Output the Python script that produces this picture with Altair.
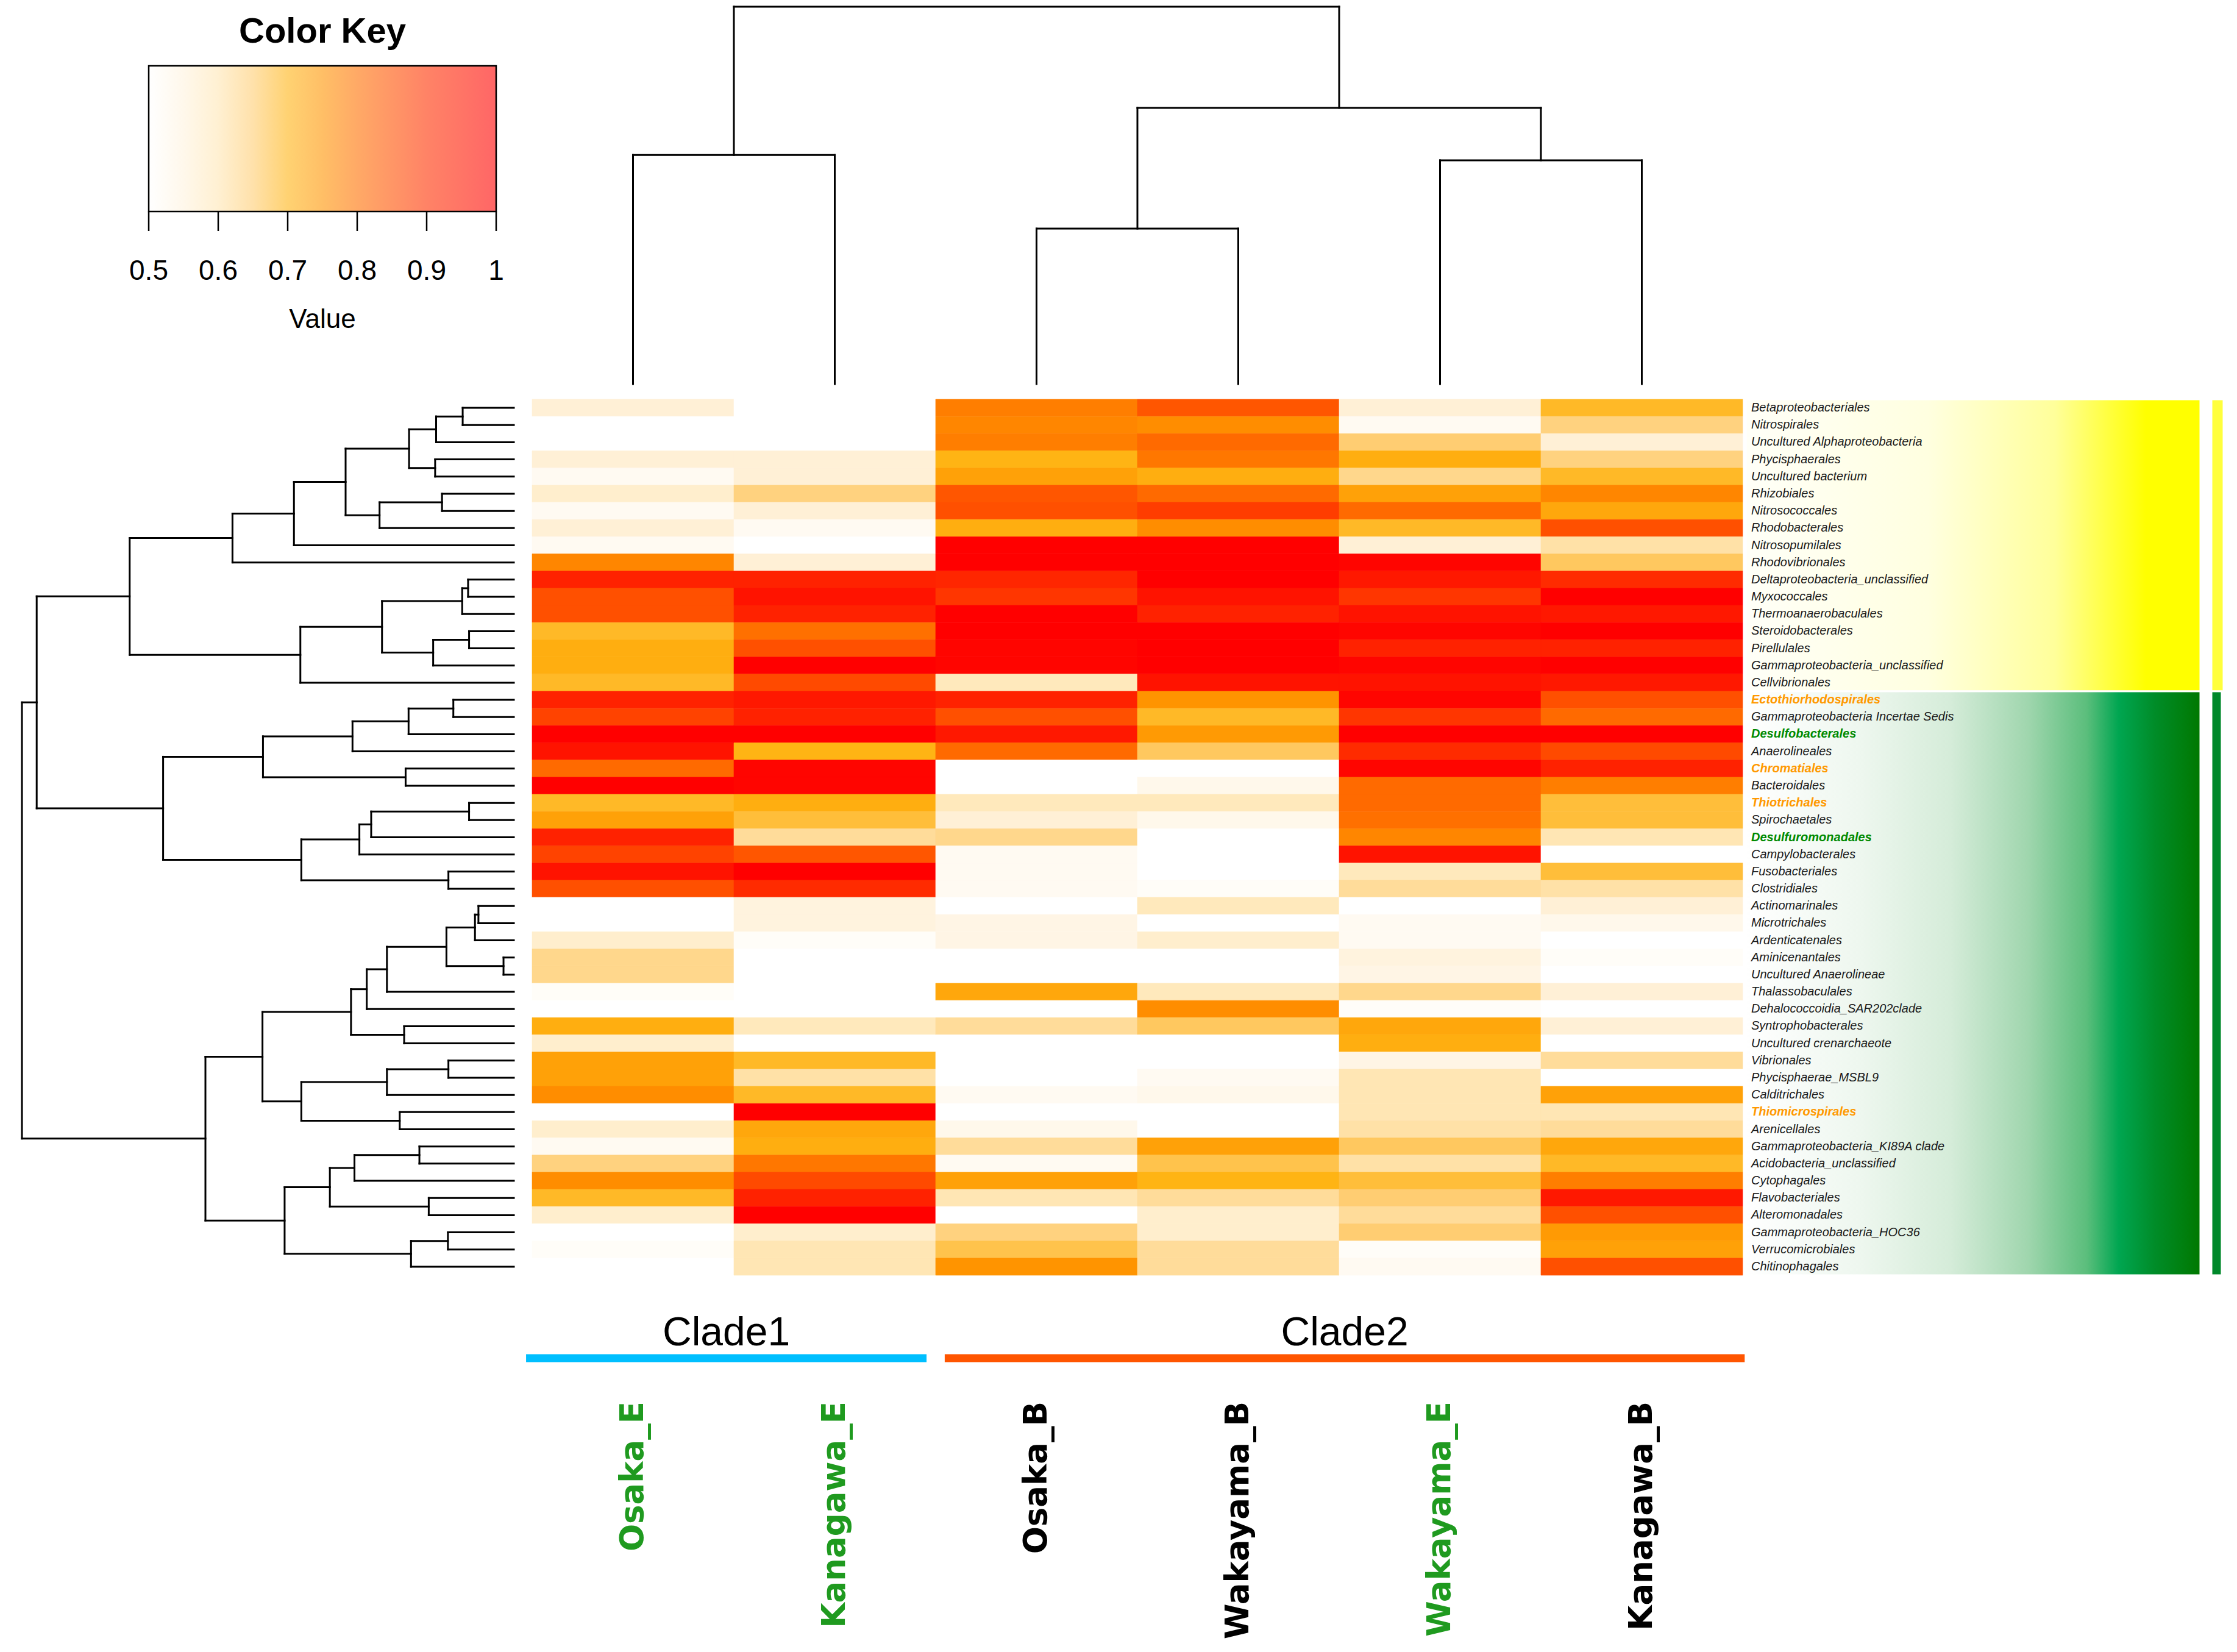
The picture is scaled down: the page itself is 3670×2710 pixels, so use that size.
import altair as alt
import pandas as pd

# ---------------- data ----------------
samples = ["Osaka_E", "Kanagawa_E", "Osaka_B", "Wakayama_B", "Wakayama_E", "Kanagawa_B"]
sample_type = ["E", "E", "B", "B", "E", "B"]
sample_clade = ["Clade1", "Clade1", "Clade2", "Clade2", "Clade2", "Clade2"]

taxa = [
    "Betaproteobacteriales", "Nitrospirales", "Uncultured Alphaproteobacteria", "Phycisphaerales",
    "Uncultured bacterium", "Rhizobiales", "Nitrosococcales", "Rhodobacterales", "Nitrosopumilales",
    "Rhodovibrionales", "Deltaproteobacteria_unclassified", "Myxococcales", "Thermoanaerobaculales",
    "Steroidobacterales", "Pirellulales", "Gammaproteobacteria_unclassified", "Cellvibrionales",
    "Ectothiorhodospirales", "Gammaproteobacteria Incertae Sedis", "Desulfobacterales", "Anaerolineales",
    "Chromatiales", "Bacteroidales", "Thiotrichales", "Spirochaetales", "Desulfuromonadales",
    "Campylobacterales", "Fusobacteriales", "Clostridiales", "Actinomarinales", "Microtrichales",
    "Ardenticatenales", "Aminicenantales", "Uncultured Anaerolineae", "Thalassobaculales",
    "Dehalococcoidia_SAR202clade", "Syntrophobacterales", "Uncultured crenarchaeote", "Vibrionales",
    "Phycisphaerae_MSBL9", "Calditrichales", "Thiomicrospirales", "Arenicellales",
    "Gammaproteobacteria_KI89A clade", "Acidobacteria_unclassified", "Cytophagales", "Flavobacteriales",
    "Alteromonadales", "Gammaproteobacteria_HOC36", "Verrucomicrobiales", "Chitinophagales",
]
sox = "S-oxidizer"
sred = "S-reducer"
oth = "other"
taxon_role = [oth] * 17 + [sox, oth, sred, oth, sox, oth, sox, oth, sred] + [oth] * 15 + [sox] + [oth] * 9
taxon_group = ["A"] * 17 + ["B"] * 34

val_osaka_e = [.56, .50, .50, .56, .52, .57, .52, .56, .52, .77, .93, .85, .85, .69, .71, .71, .69,
               .93, .87, 1.0, .96, .81, 1.0, .69, .73, .93, .87, .96, .85, .50, .50, .57, .63, .63,
               .51, .50, .71, .57, .73, .73, .76, .50, .57, .52, .64, .76, .69, .57, .50, .51, .50]
val_kanagawa_e = [.50, .50, .50, .56, .56, .64, .56, .52, .50, .56, .93, .96, .93, .80, .85, 1.0, .86,
                  .95, .93, 1.0, .70, .99, .99, .71, .68, .62, .84, 1.0, .91, .55, .55, .51, .50, .50,
                  .50, .50, .59, .50, .69, .61, .69, 1.0, .72, .71, .79, .86, .93, 1.0, .57, .60, .60]
val_osaka_b = [.78, .77, .78, .70, .73, .84, .85, .71, 1.0, 1.0, .92, .89, 1.0, 1.0, .99, .99, .59,
               .93, .85, .95, .81, .50, .50, .59, .56, .63, .52, .52, .52, .50, .54, .54, .50, .50,
               .72, .50, .62, .50, .50, .50, .52, .50, .53, .62, .52, .73, .60, .50, .64, .67, .75]
val_wakayama_b = [.84, .76, .81, .79, .71, .81, .88, .76, 1.0, 1.0, 1.0, .96, .93, 1.0, 1.0, 1.0, .96,
                  .75, .69, .74, .66, .50, .53, .59, .53, .50, .50, .50, .51, .59, .50, .57, .50, .50,
                  .59, .76, .66, .50, .50, .52, .53, .50, .50, .73, .67, .70, .62, .57, .57, .62, .62]
val_wakayama_e = [.56, .52, .65, .71, .63, .73, .81, .69, .56, .99, .95, .89, .96, .99, .93, .99, .96,
                  .99, .89, 1.0, .91, .99, .81, .81, .80, .77, .96, .59, .62, .50, .52, .52, .55, .54,
                  .63, .51, .72, .71, .54, .60, .60, .60, .61, .66, .61, .68, .65, .62, .65, .51, .52]
val_kanagawa_b = [.69, .64, .56, .64, .69, .77, .72, .85, .61, .66, .91, 1.0, .95, 1.0, .93, 1.0, .95,
                  .85, .81, 1.0, .86, .93, .78, .68, .68, .60, .50, .68, .61, .56, .53, .50, .51, .50,
                  .56, .50, .56, .50, .62, .50, .73, .60, .62, .72, .69, .78, .95, .85, .74, .73, .85]
values = [val_osaka_e, val_kanagawa_e, val_osaka_b, val_wakayama_b, val_wakayama_e, val_kanagawa_b]

# hierarchical clustering (hclust-style merge list: negative = leaf, positive = earlier merge)
row_merges = [
    (-1, -2, 0.104), (1, -3, 0.158), (-4, -5, 0.160), (2, 3, 0.213), (-6, -7, 0.146),
    (5, -8, 0.273), (4, 6, 0.342), (7, -9, 0.447), (8, -10, 0.572), (-11, -12, 0.093),
    (10, -13, 0.105), (-14, -15, 0.091), (12, -16, 0.164), (11, 13, 0.268), (14, -17, 0.434),
    (9, 15, 0.781), (-18, -19, 0.123), (17, -20, 0.214), (18, -21, 0.328), (-22, -23, 0.220),
    (19, 20, 0.510), (-24, -25, 0.091), (22, -26, 0.290), (23, -27, 0.314), (-28, -29, 0.133),
    (24, 25, 0.432), (21, 26, 0.713), (16, 27, 0.970), (-30, -31, 0.072), (29, -32, 0.079),
    (-33, -34, 0.021), (30, 31, 0.137), (32, -35, 0.258), (33, -36, 0.299), (-37, -38, 0.223),
    (34, 35, 0.331), (-39, -40, 0.133), (37, -41, 0.258), (-42, -43, 0.232), (38, 39, 0.432),
    (36, 40, 0.511), (-44, -45, 0.192), (42, -46, 0.324), (-47, -48, 0.173), (43, 44, 0.374),
    (-49, -50, 0.134), (46, -51, 0.209), (45, 47, 0.466), (41, 48, 0.627), (28, 49, 1.000),
]
col_merges = [(-1, -2, 0.607), (-3, -4, 0.412), (-5, -6, 0.593), (2, 3, 0.732), (1, 4, 1.000)]

# colour key
color_domain = [0.50, 0.55, 0.60, 0.65, 0.70, 0.75, 0.80, 0.85, 0.90, 0.95, 1.00]
color_range = ["#FFFFFF", "#FFF3DE", "#FFE6B4", "#FFCD72", "#FFB414", "#FF9400",
               "#FF7000", "#FF5000", "#FF3000", "#FF1800", "#FF0000"]
key_ticks = [0.5, 0.6, 0.7, 0.8, 0.9, 1.0]

# ---------------- layout constants (pixels) ----------------
NR, NC = len(taxa), len(samples)
HM_W, HM_H = 1986, 1437
LEFT_W = 865
RD_LEAF, RD_ROOT = 835, 28
TOP_H = 645
CD_LEAF, CD_ROOT = 622, 3
SIDE_W = 803
BOT_H = 612
KEY_X, KEY_W = 236, 570
KEY_TOP, KEY_BOT, TICK_END = 100, 339, 371
KEY_TITLE_Y, KEY_LAB_Y, KEY_VAL_Y = 62, 451, 530


def dendro(merges):
    pos, hgt, segs = {}, {}, []

    def node(k):
        if k < 0:
            return -k - 0.5, 0.0
        return pos[k], hgt[k]

    for i, (a, b, h) in enumerate(merges, 1):
        pa, ha = node(a)
        pb, hb = node(b)
        segs.append(dict(p1=pa, p2=pb, h1=h, h2=h))
        segs.append(dict(p1=pa, p2=pa, h1=ha, h2=h))
        segs.append(dict(p1=pb, p2=pb, h1=hb, h2=h))
        pos[i], hgt[i] = (pa + pb) / 2, h
    return pd.DataFrame(segs)


# ---------------- colour key (top-left panel) ----------------
kmin, kmax = color_domain[0], color_domain[-1]
k_ppu = KEY_W / (kmax - kmin)
k_lo = kmin - KEY_X / k_ppu
k_hi = k_lo + LEFT_W / k_ppu
kx = alt.Scale(domain=[k_lo, k_hi], nice=False, zero=False)
key_mid = (kmin + kmax) / 2

key_grad = alt.LinearGradient(
    gradient="linear", x1=0, x2=1, y1=0, y2=0,
    stops=[alt.GradientStop(offset=(v - kmin) / (kmax - kmin), color=c)
           for v, c in zip(color_domain, color_range)])
key_box = alt.Chart(pd.DataFrame({"lo": [kmin], "hi": [kmax]})).mark_rect(
    fill=key_grad, fillOpacity=0.6, stroke="black", strokeWidth=2.5).encode(
    x=alt.X("lo:Q", scale=kx, axis=None), x2="hi:Q",
    y=alt.value(KEY_TOP), y2=alt.value(KEY_BOT))
tick_df = pd.DataFrame({"t": key_ticks, "lab": [f"{v:g}" for v in key_ticks]})
key_ticks_m = alt.Chart(tick_df).mark_rule(color="black", strokeWidth=2.5).encode(
    x=alt.X("t:Q", scale=kx, axis=None), y=alt.value(KEY_BOT), y2=alt.value(TICK_END))
key_labels = alt.Chart(tick_df).mark_text(
    font="Liberation Sans", fontSize=46, baseline="alphabetic", align="center", color="black").encode(
    x=alt.X("t:Q", scale=kx, axis=None), y=alt.value(KEY_LAB_Y), text="lab:N")
key_texts = pd.DataFrame({"x": [key_mid, key_mid], "txt": ["Color Key", "Value"], "kind": ["title", "axis"]})
key_title = alt.Chart(key_texts).transform_filter("datum.kind == 'title'").mark_text(
    font="Liberation Sans", fontSize=58, fontWeight="bold", baseline="alphabetic", color="black").encode(
    x=alt.X("x:Q", scale=kx, axis=None), y=alt.value(KEY_TITLE_Y), text="txt:N")
key_axis_t = alt.Chart(key_texts).transform_filter("datum.kind == 'axis'").mark_text(
    font="Liberation Sans", fontSize=44, baseline="alphabetic", color="black").encode(
    x=alt.X("x:Q", scale=kx, axis=None), y=alt.value(KEY_VAL_Y), text="txt:N")
key_panel = alt.layer(key_box, key_ticks_m, key_labels, key_title, key_axis_t).properties(
    width=LEFT_W, height=TOP_H)

# ---------------- column dendrogram ----------------
col_seg = dendro(col_merges)
cd_unit = (CD_LEAF - CD_ROOT) / 1.0
cd_ymax = CD_LEAF / cd_unit
cd_ymin = cd_ymax - TOP_H / cd_unit
coldendro = alt.Chart(col_seg).mark_rule(color="black", strokeWidth=3, strokeCap="square").encode(
    x=alt.X("p1:Q", scale=alt.Scale(domain=[0, NC], nice=False, zero=False), axis=None),
    x2="p2:Q",
    y=alt.Y("h1:Q", scale=alt.Scale(domain=[cd_ymin, cd_ymax], nice=False, zero=False), axis=None),
    y2="h2:Q",
).properties(width=HM_W, height=TOP_H)

# ---------------- row dendrogram ----------------
row_seg = dendro(row_merges)
rd_unit = (RD_LEAF - RD_ROOT) / 1.0
rd_xmax = RD_LEAF / rd_unit
rd_xmin = rd_xmax - LEFT_W / rd_unit
yscale_rows = alt.Scale(domain=[0, NR], reverse=True, nice=False, zero=False)
rowdendro = alt.Chart(row_seg).mark_rule(color="black", strokeWidth=3, strokeCap="square").encode(
    x=alt.X("h1:Q", scale=alt.Scale(domain=[rd_xmin, rd_xmax], reverse=True, nice=False, zero=False),
            axis=None),
    x2="h2:Q",
    y=alt.Y("p1:Q", scale=yscale_rows, axis=None),
    y2="p2:Q",
).properties(width=LEFT_W, height=HM_H)

# ---------------- heatmap ----------------
hm_rows = []
for j, s in enumerate(samples):
    for i, t in enumerate(taxa):
        hm_rows.append({"sample": s, "taxon": t, "value": values[j][i]})
hm_df = pd.DataFrame(hm_rows)
cscale = alt.Scale(domain=color_domain, range=color_range, interpolate="rgb", clamp=True)
heat = alt.Chart(hm_df).mark_rect(strokeWidth=0.6).encode(
    x=alt.X("sample:N", sort=samples, axis=None, scale=alt.Scale(paddingInner=0, paddingOuter=0)),
    y=alt.Y("taxon:N", sort=taxa, axis=None, scale=alt.Scale(paddingInner=0, paddingOuter=0)),
    color=alt.Color("value:Q", scale=cscale, legend=None),
    stroke=alt.Stroke("value:Q", scale=cscale, legend=None),
).properties(width=HM_W, height=HM_H)

# ---------------- side labels & group bars ----------------
lab_df = pd.DataFrame({"taxon": taxa, "role": taxon_role, "pos": [i + 0.5 for i in range(NR)]})
groups = []
for g in ["A", "B"]:
    idx = [i for i, x in enumerate(taxon_group) if x == g]
    groups.append({"group": g, "start": min(idx), "end": max(idx) + 1})
grp_df = pd.DataFrame(groups)

yellow_grad = alt.LinearGradient(gradient="linear", x1=0, x2=1, y1=0, y2=0, stops=[
    alt.GradientStop(offset=0, color="#FFFFF8"), alt.GradientStop(offset=0.4, color="#FFFFE0"),
    alt.GradientStop(offset=0.68, color="#FFFF9A"), alt.GradientStop(offset=0.88, color="#FFFF00"),
    alt.GradientStop(offset=1, color="#FFFF00")])
green_grad = alt.LinearGradient(gradient="linear", x1=0, x2=1, y1=0, y2=0, stops=[
    alt.GradientStop(offset=0, color="#FFFFFF"), alt.GradientStop(offset=0.25, color="#EEF7EF"),
    alt.GradientStop(offset=0.45, color="#D5ECD9"), alt.GradientStop(offset=0.62, color="#A0D6AE"),
    alt.GradientStop(offset=0.75, color="#5BBE7C"), alt.GradientStop(offset=0.82, color="#00A651"),
    alt.GradientStop(offset=0.9, color="#008C28"), alt.GradientStop(offset=1, color="#007800")])

base_grp = alt.Chart(grp_df)
gy = alt.Y("start:Q", scale=yscale_rows, axis=None)
box_a = base_grp.transform_filter("datum.group == 'A'").mark_rect(
    fill=yellow_grad, stroke="white", strokeWidth=3).encode(
    x=alt.value(5), x2=alt.value(751), y=gy, y2="end:Q")
box_b = base_grp.transform_filter("datum.group == 'B'").mark_rect(
    fill=green_grad, stroke="white", strokeWidth=3).encode(
    x=alt.value(5), x2=alt.value(751), y=gy, y2="end:Q")
bar_a = base_grp.transform_filter("datum.group == 'A'").mark_rect(
    fill="#FFFF3C", stroke="white", strokeWidth=3).encode(
    x=alt.value(769), x2=alt.value(789), y=gy, y2="end:Q")
bar_b = base_grp.transform_filter("datum.group == 'B'").mark_rect(
    fill="#00882A", stroke="white", strokeWidth=3).encode(
    x=alt.value(769), x2=alt.value(786), y=gy, y2="end:Q")

base_lab = alt.Chart(lab_df)
lab_plain = base_lab.transform_filter("datum.role == 'other'").mark_text(
    align="left", baseline="middle", font="Liberation Sans", fontSize=20, fontStyle="italic",
    color="#1a1a1a").encode(
    x=alt.value(14), y=alt.Y("pos:Q", scale=yscale_rows, axis=None), text="taxon:N")
lab_bold = base_lab.transform_filter("datum.role != 'other'").mark_text(
    align="left", baseline="middle", font="Liberation Sans", fontSize=20, fontStyle="italic",
    fontWeight="bold").encode(
    x=alt.value(14), y=alt.Y("pos:Q", scale=yscale_rows, axis=None), text="taxon:N",
    color=alt.Color("role:N", scale=alt.Scale(domain=[sox, sred], range=["#FF9900", "#008A00"]), legend=None))

side = alt.layer(box_a, box_b, bar_a, bar_b, lab_plain, lab_bold).properties(width=SIDE_W, height=HM_H)

# ---------------- bottom: clades and sample labels ----------------
clades = []
for c in ["Clade1", "Clade2"]:
    idx = [i for i, x in enumerate(sample_clade) if x == c]
    lo = min(idx) + (0.045 if min(idx) > 0 else -0.03)
    hi = max(idx) + 1 - (0.045 if max(idx) < NC - 1 else -0.01)
    clades.append({"clade": c, "c_start": lo, "c_end": hi, "c_mid": (lo + hi) / 2})
clade_df = pd.DataFrame(clades)
samp_df = pd.DataFrame({"sample": samples, "stype": sample_type, "pos": [i + 0.5 for i in range(NC)]})
col_w = HM_W / NC
xcols = alt.Scale(domain=[-LEFT_W / col_w, NC], nice=False, zero=False)

clade_lines = alt.Chart(clade_df).mark_rule(strokeWidth=13).encode(
    x=alt.X("c_start:Q", scale=xcols, axis=None), x2="c_end:Q", y=alt.value(134),
    color=alt.Color("clade:N", scale=alt.Scale(domain=["Clade1", "Clade2"], range=["#00BFFF", "#FF5500"]),
                    legend=None))
clade_text = alt.Chart(clade_df).mark_text(
    font="Liberation Sans", fontSize=66, baseline="alphabetic", align="center", color="black").encode(
    x=alt.X("c_mid:Q", scale=xcols, axis=None), y=alt.value(113), text="clade:N")
samp_text = alt.Chart(samp_df).mark_text(
    font="DejaVu Sans", fontSize=53, fontWeight="bold", angle=270, align="right", baseline="middle").encode(
    x=alt.X("pos:Q", scale=xcols, axis=None), y=alt.value(205), text="sample:N",
    color=alt.Color("stype:N", scale=alt.Scale(domain=["E", "B"], range=["#1f9a1f", "#000000"]), legend=None))
bottom = alt.layer(clade_lines, clade_text, samp_text).resolve_scale(color="independent").properties(
    width=LEFT_W + HM_W, height=BOT_H)

# ---------------- assemble ----------------
top_row = alt.hconcat(key_panel, coldendro, spacing=0, bounds="flush")
mid_row = alt.hconcat(rowdendro, heat, side, spacing=0, bounds="flush")

chart = alt.vconcat(top_row, mid_row, bottom, spacing=0).properties(
    padding=0, background="white").configure(font="Liberation Sans").configure_view(
    stroke="transparent", strokeWidth=0)

chart.save("out.html", embed_options={"renderer": "svg", "actions": False})
